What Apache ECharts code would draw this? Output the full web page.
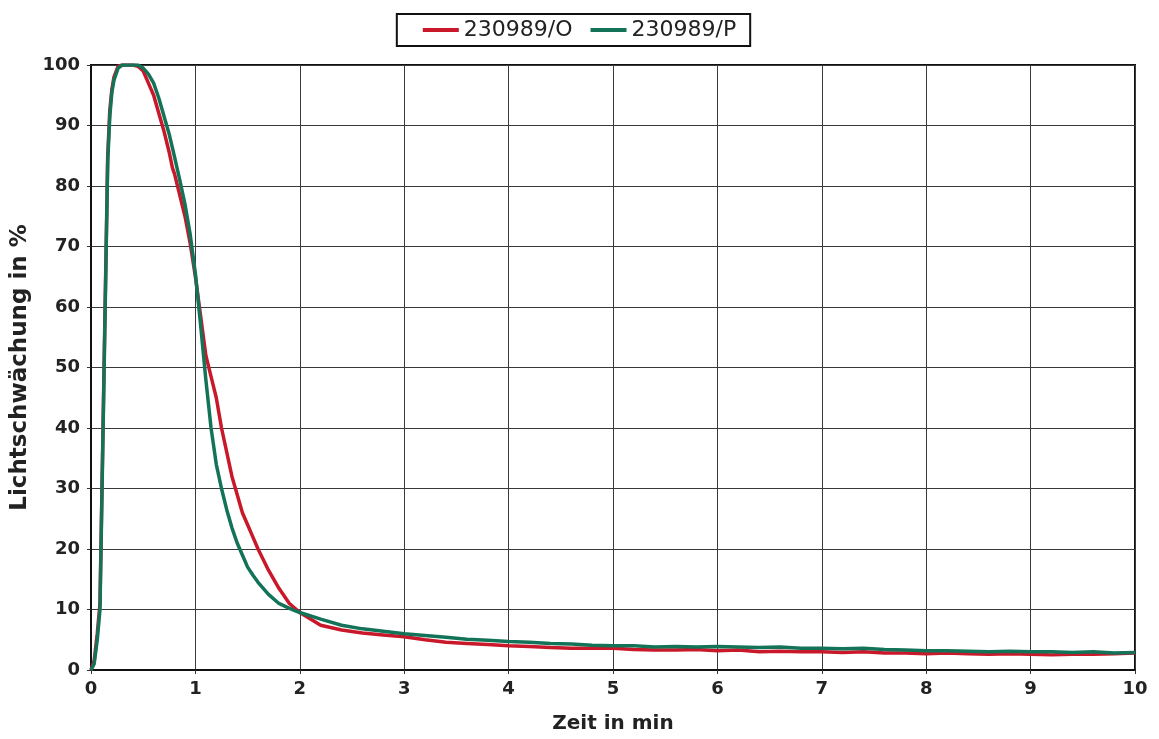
<!DOCTYPE html>
<html>
<head>
<meta charset="utf-8">
<script src="https://cdn.jsdelivr.net/npm/echarts@6/dist/echarts.min.js"></script>
<style>
  html, body { margin: 0; padding: 0; background: #fff; }
  #chart { width: 1159px; height: 739px; }
</style>
</head>
<body>
<div id="chart"></div>
<script>
// Zeit in min
const zeit = [
  0, 0.03, 0.06, 0.086, 0.1, 0.12, 0.14, 0.16, 0.18, 0.2, 0.22, 0.26, 0.3, 0.35, 0.4, 0.45,
  0.5, 0.55, 0.6, 0.65, 0.7, 0.75, 0.78, 0.8, 0.85, 0.9, 0.95, 1.0, 1.05, 1.1, 1.15,
  1.2, 1.25, 1.3, 1.35, 1.4, 1.45, 1.5, 1.55, 1.6, 1.7, 1.8, 1.9, 2.0,
  2.2, 2.4, 2.6, 2.8, 3.0, 3.2, 3.4, 3.6, 3.8, 4.0, 4.2, 4.4, 4.6, 4.8, 5.0,
  5.2, 5.4, 5.6, 5.8, 6.0, 6.2, 6.4, 6.6, 6.8, 7.0, 7.2, 7.4, 7.6, 7.8, 8.0,
  8.2, 8.4, 8.6, 8.8, 9.0, 9.2, 9.4, 9.6, 9.8, 10
];

// 230989/O (rot)
const probeO = [
  0, 1.5, 6, 11, 25, 45, 65, 85, 92.5, 96, 98, 99.8, 100, 100, 100, 99.8,
  99, 97, 95, 92, 89, 85.5, 83, 82, 78.5, 75, 70.5, 65, 58.5, 52, 48.5,
  45, 40, 36, 32, 29, 26, 24, 22, 20, 16.5, 13.5, 11, 9.5,
  7.4, 6.6, 6.1, 5.8, 5.5, 5.0, 4.6, 4.4, 4.2, 4.0, 3.9, 3.7, 3.6, 3.6, 3.6,
  3.4, 3.3, 3.3, 3.4, 3.2, 3.3, 3.0, 3.1, 3.0, 3.0, 2.9, 3.0, 2.8, 2.8, 2.7,
  2.8, 2.7, 2.6, 2.7, 2.6, 2.5, 2.6, 2.6, 2.7, 2.8
];

// 230989/P (grün)
const probeP = [
  0, 1, 5, 10, 24, 44, 64, 84, 91.5, 95.5, 97.5, 99.5, 100, 100, 100, 100,
  99.5, 98.5, 97, 94.5, 91.5, 88.5, 86.3, 84.8, 81, 77, 72, 65.5, 57, 48, 40,
  34, 30, 26.5, 23.5, 21, 19, 17, 15.7, 14.5, 12.5, 11, 10.2, 9.5,
  8.4, 7.4, 6.8, 6.4, 6.0, 5.7, 5.4, 5.1, 4.9, 4.7, 4.6, 4.4, 4.3, 4.1, 4.0,
  4.0, 3.8, 3.9, 3.8, 3.9, 3.8, 3.7, 3.8, 3.6, 3.6, 3.5, 3.6, 3.4, 3.3, 3.2,
  3.2, 3.1, 3.0, 3.1, 3.0, 3.0, 2.9, 3.0, 2.8, 2.9
];

const chart = echarts.init(document.getElementById('chart'));

const pairs = vals => zeit.map((t, i) => [t, vals[i]]);

const fontFam = 'DejaVu Sans, Liberation Sans, sans-serif';

const labelFont = {
  color: '#222',
  fontFamily: fontFam,
  fontWeight: 'bold',
  fontSize: 18
};

const option = {
  backgroundColor: '#fff',
  animation: false,
  legend: {
    top: 14,
    left: 'center',
    data: ['230989/O', '230989/P'],
    icon: 'rect',
    itemWidth: 36,
    itemHeight: 4,
    itemGap: 18,
    padding: [5, 14, 5, 26],
    borderColor: '#111',
    borderWidth: 2,
    textStyle: {
      color: '#222',
      fontFamily: fontFam,
      fontSize: 22
    }
  },
  grid: {
    left: 91,
    right: 24,
    top: 65,
    bottom: 69,
    show: true,
    borderColor: '#111',
    borderWidth: 2
  },
  xAxis: {
    type: 'value',
    min: 0,
    max: 10,
    interval: 1,
    name: 'Zeit in min',
    nameLocation: 'middle',
    nameGap: 44,
    nameTextStyle: {
      color: '#222',
      fontFamily: fontFam,
      fontWeight: 'bold',
      fontSize: 20
    },
    axisLine: { show: true, lineStyle: { color: '#111', width: 2 } },
    axisTick: { show: true, length: 4, lineStyle: { color: '#333' } },
    axisLabel: Object.assign({ margin: 10 }, labelFont),
    splitLine: { show: true, lineStyle: { color: '#3a3a3a', width: 1 } }
  },
  yAxis: {
    type: 'value',
    min: 0,
    max: 100,
    interval: 10,
    name: 'Lichtschwächung in %',
    nameLocation: 'middle',
    nameGap: 57,
    nameTextStyle: {
      color: '#222',
      fontFamily: fontFam,
      fontWeight: 'bold',
      fontSize: 23
    },
    axisLine: { show: true, lineStyle: { color: '#111', width: 2 } },
    axisTick: { show: true, length: 4, lineStyle: { color: '#333' } },
    axisLabel: Object.assign({ margin: 11 }, labelFont),
    splitLine: { show: true, lineStyle: { color: '#3a3a3a', width: 1 } }
  },
  series: [
    {
      name: '230989/O',
      type: 'line',
      data: pairs(probeO),
      showSymbol: false,
      color: '#c8182a',
      lineStyle: { width: 3.5, color: '#c8182a' },
      z: 2
    },
    {
      name: '230989/P',
      type: 'line',
      data: pairs(probeP),
      showSymbol: false,
      color: '#137358',
      lineStyle: { width: 3.5, color: '#137358' },
      z: 3
    }
  ]
};

chart.setOption(option);
</script>
</body>
</html>
